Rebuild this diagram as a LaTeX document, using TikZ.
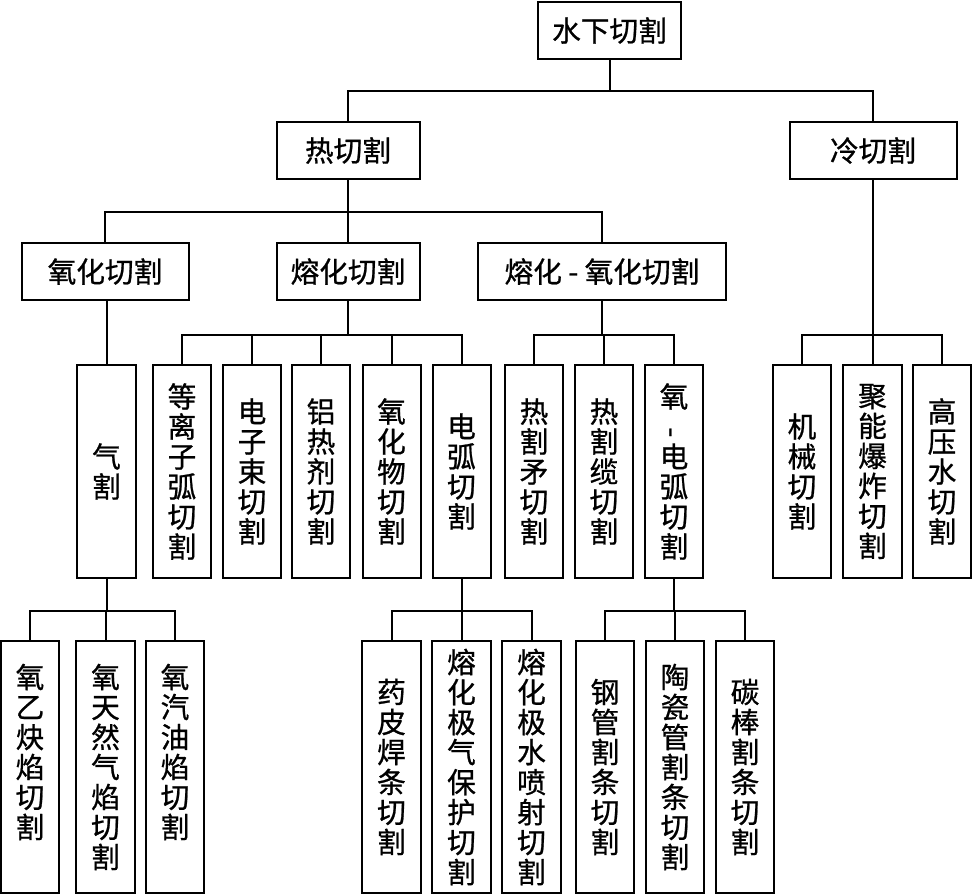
\documentclass[tikz,border=0pt]{standalone}
\usepackage{fontspec}
\newfontfamily\cjk[FakeBold=0.8]{Noto Sans CJK SC}
\begin{document}
\begin{tikzpicture}[x=0.75pt,y=-0.75pt,
  bx/.style 2 args={draw=black, line width=1.5pt, inner sep=0pt, align=center,
    minimum width=#1*0.75pt, minimum height=#2*0.75pt,
    font=\cjk\fontsize{21.5}{22.5}\selectfont},
  ln/.style={line width=1.5pt, black}]
\useasboundingbox (0,0) rectangle (972,895);
\fill[white] (0,0) rectangle (972,895);
% level 0
\node[bx={143}{57}] (root) at (609.5,30.5) {水下切割};
% level 1
\node[bx={143}{57}] (hot) at (348,150.5) {热切割};
\node[bx={167}{57}] (cold) at (873,150.5) {冷切割};
% level 2
\node[bx={167}{57}] (ox) at (105,271.5) {氧化切割};
\node[bx={143}{57}] (melt) at (348,271.5) {熔化切割};
\node[bx={248}{57}] (mox) at (602,271.5) {熔化 - 氧化切割};
% level 3
\node[bx={59}{213}] (gas) at (106.5,471.5) {气\\割};
\node[bx={58}{213}] (plasma) at (182,471.5) {等\\离\\子\\弧\\切\\割};
\node[bx={58}{213}] (ebeam) at (252,471.5) {电\\子\\束\\切\\割};
\node[bx={58}{213}] (thermite) at (321,471.5) {铝\\热\\剂\\切\\割};
\node[bx={58}{213}] (oxide) at (391.5,471.5) {氧\\化\\物\\切\\割};
\node[bx={58}{213}] (arc) at (461.5,471.5) {电\\弧\\切\\割};
\node[bx={58}{213}] (lance) at (534,471.5) {热\\割\\矛\\切\\割};
\node[bx={58}{213}] (cable) at (604,471.5) {热\\割\\缆\\切\\割};
\node[bx={58}{213}] (oarc) at (674,471.5) {氧\\\rotatebox{90}{-}\\电\\弧\\切\\割};
\node[bx={58}{213}] (mech) at (802,471.5) {机\\械\\切\\割};
\node[bx={59}{213}] (shaped) at (872.5,471.5) {聚\\能\\爆\\炸\\切\\割};
\node[bx={58}{213}] (water) at (942,471.5) {高\\压\\水\\切\\割};
% level 4
\node[bx={58}{252}] (oa) at (30,767) {氧\\乙\\炔\\焰\\切\\割\\\phantom{割}};
\node[bx={59}{252}] (ong) at (105.5,767) {氧\\天\\然\\气\\焰\\切\\割};
\node[bx={58}{252}] (ogas) at (175,767) {氧\\汽\\油\\焰\\切\\割\\\phantom{割}};
\node[bx={59}{252}] (flux) at (391.5,767) {药\\皮\\焊\\条\\切\\割};
\node[bx={59}{252}] (gmaw) at (461.5,767) {熔\\化\\极\\气\\保\\护\\切\\割};
\node[bx={59}{252}] (wj) at (531.5,767) {熔\\化\\极\\水\\喷\\射\\切\\割};
\node[bx={58}{252}] (steel) at (605,767) {钢\\管\\割\\条\\切\\割};
\node[bx={58}{252}] (ceramic) at (675,767) {陶\\瓷\\管\\割\\条\\切\\割};
\node[bx={58}{252}] (carbon) at (745,767) {碳\\棒\\割\\条\\切\\割};
% junctions
\coordinate (j0) at (root.south |- 0,91);
\coordinate (j1) at (hot.south |- 0,212);
\coordinate (j2) at (melt.south |- 0,335);
\coordinate (j3) at (mox.south |- 0,335);
\coordinate (j4) at (cold.south |- 0,335);
\coordinate (j5) at (gas.south |- 0,611);
\coordinate (j6) at (arc.south |- 0,611);
\coordinate (j7) at (oarc.south |- 0,611);
% connectors
\draw[ln] (root.south) -- (j0);
\draw[ln] (hot.north) |- (j0) -| (cold.north);
\draw[ln] (hot.south) -- (j1);
\draw[ln] (ox.north) |- (j1) -| (mox.north);
\draw[ln] (melt.north) -- (j1);
\draw[ln] (gas.north) -- (gas.north |- ox.south);
\draw[ln] (melt.south) -- (j2);
\draw[ln] (plasma.north) |- (j2) -| (arc.north);
\draw[ln] (ebeam.north) |- (j2);
\draw[ln] (thermite.north) |- (j2);
\draw[ln] (oxide.north) |- (j2);
\draw[ln] (mox.south) -- (j3);
\draw[ln] (lance.north) |- (j3) -| (oarc.north);
\draw[ln] (cable.north) |- (j3);
\draw[ln] (cold.south) -- (j4);
\draw[ln] (mech.north) |- (j4) -| (water.north);
\draw[ln] (shaped.north) |- (j4);
\draw[ln] (gas.south) -- (j5);
\draw[ln] (oa.north) |- (j5) -| (ogas.north);
\draw[ln] (ong.north) |- (j5);
\draw[ln] (arc.south) -- (j6);
\draw[ln] (flux.north) |- (j6) -| (wj.north);
\draw[ln] (gmaw.north) |- (j6);
\draw[ln] (oarc.south) -- (j7);
\draw[ln] (steel.north) |- (j7) -| (carbon.north);
\draw[ln] (ceramic.north) |- (j7);
\end{tikzpicture}
\end{document}
